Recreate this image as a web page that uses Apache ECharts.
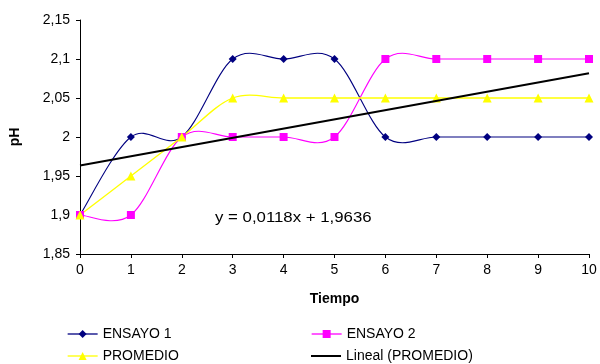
<!DOCTYPE html>
<html>
<head>
<meta charset="utf-8">
<script src="https://cdn.jsdelivr.net/npm/echarts@6/dist/echarts.min.js"></script>
<style>html,body{margin:0;padding:0;background:#fff}#c{width:600px;height:364px}</style>
</head>
<body>
<div id="c"></div>
<script>
const tiempo = [0, 1, 2, 3, 4, 5, 6, 7, 8, 9, 10];
const ensayo1 = [1.9, 2.0, 2.0, 2.1, 2.1, 2.1, 2.0, 2.0, 2.0, 2.0, 2.0];
const ensayo2 = [1.9, 1.9, 2.0, 2.0, 2.0, 2.0, 2.1, 2.1, 2.1, 2.1, 2.1];
const promedio = [1.9, 1.95, 2.0, 2.05, 2.05, 2.05, 2.05, 2.05, 2.05, 2.05, 2.05];
const trendSlope = 0.0118;
const trendIntercept = 1.9636;
const yTicks = [1.85, 1.9, 1.95, 2.0, 2.05, 2.1, 2.15];

const FONT = '"Liberation Sans", Arial, sans-serif';
const FS = 14;
const pairs = arr => tiempo.map((x, i) => [x, arr[i]]);
const trendX = [tiempo[0], tiempo[tiempo.length - 1]];
const trendData = trendX.map(x => [x, trendSlope * x + trendIntercept]);
const fmt = v => String(+v.toFixed(2)).replace('.', ',');
const comma = v => String(v).replace('.', ',');

const C_E1 = '#000080', C_E2 = '#FF00FF', C_PR = '#FFFF00';

// Excel-like smoothed line (Catmull-Rom bezier) drawn through the axes' scales
function smoothSeries(name, arr, color, width) {
  return {
    name: name, type: 'custom', data: pairs(arr), silent: true, z: 2,
    renderItem: function (params, api) {
      const i = params.dataIndex, n = arr.length;
      if (i >= n - 1) return {type: 'group', children: []};
      const p = j => { j = Math.max(0, Math.min(n - 1, j)); return api.coord([tiempo[j], arr[j]]); };
      const p0 = p(i - 1), p1 = p(i), p2 = p(i + 1), p3 = p(i + 2);
      return {
        type: 'bezierCurve',
        shape: {
          x1: p1[0], y1: p1[1], x2: p2[0], y2: p2[1],
          cpx1: p1[0] + (p2[0] - p0[0]) / 6, cpy1: p1[1] + (p2[1] - p0[1]) / 6,
          cpx2: p2[0] - (p3[0] - p1[0]) / 6, cpy2: p2[1] - (p3[1] - p1[1]) / 6
        },
        style: {stroke: color, lineWidth: width, fill: null}
      };
    }
  };
}
function markerSeries(name, arr, color, symbol, size) {
  return {
    name: name, type: 'line', data: pairs(arr), symbol: symbol, symbolSize: size,
    lineStyle: {color: color, width: 1, opacity: 0}, itemStyle: {color: color}, z: 3
  };
}

const chart = echarts.init(document.getElementById('c'), null, {renderer: 'canvas'});
const legendBase = {
  itemWidth: 30, itemHeight: 10, itemGap: 4,
  textStyle: {fontFamily: FONT, fontSize: FS, color: '#000'},
  padding: 0
};
chart.setOption({
  animation: false,
  backgroundColor: '#fff',
  grid: {left: 80, right: 11, top: 20, bottom: 110, containLabel: false},
  xAxis: {
    type: 'value', min: 0, max: 10, interval: 1,
    name: 'Tiempo', nameLocation: 'middle', nameGap: 38,
    nameTextStyle: {fontFamily: FONT, fontSize: FS, fontWeight: 'bold', color: '#000'},
    axisLine: {lineStyle: {color: '#000', width: 1}},
    axisTick: {show: true, length: 4, lineStyle: {color: '#000'}},
    axisLabel: {fontFamily: FONT, fontSize: FS, color: '#000', margin: 9},
    splitLine: {show: false}
  },
  yAxis: {
    type: 'value', min: yTicks[0], max: yTicks[yTicks.length - 1], interval: 0.05,
    name: 'pH', nameLocation: 'middle', nameGap: 58,
    nameTextStyle: {fontFamily: FONT, fontSize: FS, fontWeight: 'bold', color: '#000'},
    axisLine: {show: true, lineStyle: {color: '#000', width: 1}},
    axisTick: {show: true, length: 4, lineStyle: {color: '#000'}},
    axisLabel: {fontFamily: FONT, fontSize: FS, color: '#000', margin: 10, formatter: fmt},
    splitLine: {show: false}
  },
  legend: [
    Object.assign({}, legendBase, {data: [{name: 'ENSAYO 1', lineStyle: {opacity: 1, color: C_E1, width: 1.3}}], left: 67, top: 327}),
    Object.assign({}, legendBase, {data: [{name: 'ENSAYO 2', lineStyle: {opacity: 1, color: C_E2, width: 1.3}}], left: 311, top: 327}),
    Object.assign({}, legendBase, {data: [{name: 'PROMEDIO', lineStyle: {opacity: 1, color: C_PR, width: 1.3}}], left: 67, top: 349}),
    Object.assign({}, legendBase, {itemHeight: 2, data: [{name: 'Lineal (PROMEDIO)', icon: 'rect', itemStyle: {color: '#000'}}], left: 311, top: 349})
  ],
  graphic: [{
    type: 'text', x: 215, y: 211, scaleX: 1.2,
    style: {text: 'y = ' + comma(trendSlope) + 'x + ' + comma(trendIntercept),
      font: FS + 'px "Liberation Sans", Arial, sans-serif', fill: '#000'}
  }],
  series: [
    markerSeries('ENSAYO 1', ensayo1, C_E1, 'diamond', 8),
    markerSeries('ENSAYO 2', ensayo2, C_E2, 'rect', 8),
    markerSeries('PROMEDIO', promedio, C_PR, 'triangle', 9),
    smoothSeries('ENSAYO 1', ensayo1, C_E1, 1.1),
    smoothSeries('ENSAYO 2', ensayo2, C_E2, 1.1),
    smoothSeries('PROMEDIO', promedio, C_PR, 1.3),
    {
      name: 'Lineal (PROMEDIO)', type: 'line', data: trendData, symbol: 'none',
      lineStyle: {color: '#000', width: 2}, itemStyle: {color: '#000'}, z: 4
    }
  ]
});
</script>
</body>
</html>
